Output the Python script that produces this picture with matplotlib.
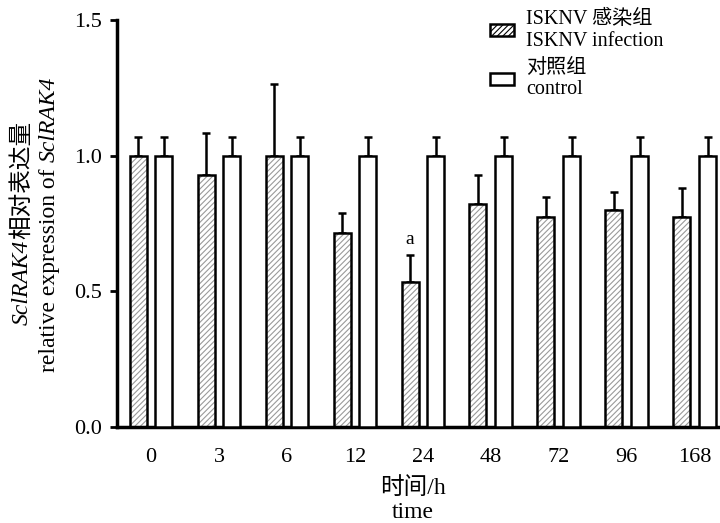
import matplotlib
matplotlib.use("Agg")
import matplotlib.pyplot as plt
import numpy as np

# data
times = ["0", "3", "6", "12", "24", "48", "72", "96", "168"]
infection = [1.00, 0.93, 1.00, 0.715, 0.535, 0.82, 0.775, 0.80, 0.775]
infection_err = [0.07, 0.155, 0.265, 0.075, 0.10, 0.11, 0.072, 0.065, 0.105]
control = [1.00, 1.00, 1.00, 1.00, 1.00, 1.00, 1.00, 1.00, 1.00]
control_err = [0.07, 0.07, 0.07, 0.07, 0.07, 0.07, 0.07, 0.07, 0.07]
marks = {"24": "a"}

FONT = ["Liberation Serif", "Noto Sans CJK SC"]
plt.rcParams["font.family"] = FONT
plt.rcParams["hatch.linewidth"] = 0.8
plt.rcParams["hatch.color"] = "#9a9a9a"

fig = plt.figure(figsize=(7.2, 5.23), dpi=100)
ax = fig.add_axes([0.1625, 0.1836, 0.8375, 0.7782])

x = np.arange(len(times))
w = 0.25
off = 0.19

# hatch layer, then black outline on top
ax.bar(x - off, infection, w, color="white", edgecolor="#9a9a9a", hatch="//////", linewidth=0, zorder=2)
ax.bar(x - off, infection, w, color="none", edgecolor="black", linewidth=1.8, zorder=3)
ax.bar(x + off, control, w, color="white", edgecolor="black", linewidth=1.8, zorder=3)

ekw = dict(fmt="none", ecolor="black", elinewidth=1.8, capsize=3.2, capthick=1.8, zorder=1)
ax.errorbar(x - off, infection, yerr=[np.zeros(len(x)), infection_err], **ekw)
ax.errorbar(x + off, control, yerr=[np.zeros(len(x)), control_err], **ekw)

for i, t in enumerate(times):
    if t in marks:
        ax.text(x[i] - off, infection[i] + infection_err[i] + 0.025, marks[t],
                ha="center", va="bottom", fontsize=14)

ax.set_xlim(-0.5, 8.37)
ax.set_ylim(0, 1.5)
ax.set_yticks([0, 0.5, 1.0, 1.5])
ax.set_yticklabels(["0.0", "0.5", "1.0", "1.5"])
ax.set_xticks(x)
ax.set_xticklabels(times)
ax.tick_params(axis="y", length=5, width=2, labelsize=16, pad=6)
ax.tick_params(axis="x", length=0, labelsize=16, pad=15)
for s in ["top", "right"]:
    ax.spines[s].set_visible(False)
for s in ["left", "bottom"]:
    ax.spines[s].set_linewidth(2.5)

# x label
fig.text(0.573, 0.067, "时间/h", ha="center", va="center", fontsize=17)
fig.text(0.573, 0.021, "time", ha="center", va="center", fontsize=17)

# y label, two lines built from pieces (italic gene name)
t1 = fig.text(0.031, 0.379, "SclRAK4", style="italic", rotation=90, ha="center", va="bottom", fontsize=17)
fig.canvas.draw()
ax.annotate("相对表达量", xy=(0.5, 1.0), xycoords=t1, rotation=90, ha="center", va="bottom", fontsize=17)
t2 = fig.text(0.069, 0.289, "relative expression of ", rotation=90, ha="center", va="bottom", fontsize=17)
ax.annotate("SclRAK4", xy=(0.5, 1.0), xycoords=t2, rotation=90, ha="center", va="bottom",
            fontsize=17, style="italic")

# legend
h1 = plt.Rectangle((0, 0), 1, 1, facecolor="white", edgecolor="black", hatch="//////", linewidth=1.8)
h2 = plt.Rectangle((0, 0), 1, 1, facecolor="white", edgecolor="black", linewidth=1.8)
ax.legend([h1, h2], ["ISKNV 感染组\nISKNV infection", "对照组\ncontrol"],
          loc="upper left", bbox_to_anchor=(0.588, 1.07), frameon=False, fontsize=14.5,
          handlelength=1.2, handleheight=0.5, handletextpad=0.6, labelspacing=0.4)

fig.savefig("out.png", dpi=100)
